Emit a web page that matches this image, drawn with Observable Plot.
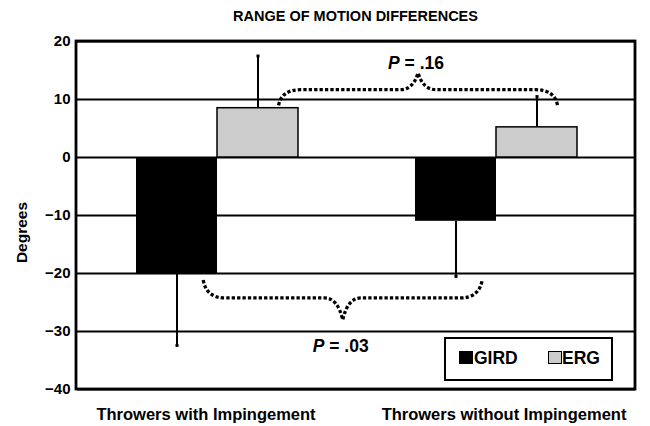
<!DOCTYPE html>
<html>
<head>
<meta charset="utf-8">
<script src="https://cdn.jsdelivr.net/npm/d3@7"></script>
<script src="https://cdn.jsdelivr.net/npm/@observablehq/plot@0.6"></script>
<style>
  body { margin: 0; background: #fff; font-family: "Liberation Sans", Arial, sans-serif; }
  #wrap { position: relative; width: 650px; height: 426px; overflow: hidden; }
  #title { height: 30px; box-sizing: border-box; padding: 9px 15px 0 76px; text-align: center;
           font-weight: bold; font-size: 14.5px; line-height: 15px; color: #000; }
  #legend { position: absolute; left: 444px; top: 337px; width: 169px; height: 44px; box-sizing: border-box;
            border: 2px solid #000; background: #fff; font-weight: bold; font-size: 17.5px; color: #000; }
  #legend .sw { position: absolute; top: 12px; width: 14px; height: 13px; box-sizing: border-box; }
  #legend .lb { position: absolute; top: 10px; line-height: 18px; }
</style>
</head>
<body>
<div id="wrap">
  <div id="title">RANGE OF MOTION DIFFERENCES</div>
  <div id="chart"></div>
  <div id="legend"></div>
</div>
<script>
// ---- data ----
const groups = ["Throwers with Impingement", "Throwers without Impingement"];
const series = ["GIRD", "ERG"];
const girdValues = [-20, -11];
const ergValues = [8.5, 5.2];
const girdErrors = [12.4, 9.5];
const ergErrors = [9.0, 5.3];
const yTicks = [20, 10, 0, -10, -20, -30, -40];
const seriesColors = ["#000000", "#cccccc"];
const yLabel = "Degrees";

// annotations (brace between series of the two groups, with p-value)
const braceSeries = ["ERG", "GIRD"];
const braceEndValues = [8.9, -21.2];
const braceLevelValues = [11.6, -24.3];
const bracePeakValues = [14.5, -28.1];
const pLabels = [".16", ".03"];
const pLabelValues = [16.3, -32.5];

// ---- rows ----
const rows = [];
groups.forEach((g, i) => {
  rows.push({group: g, series: "GIRD", value: girdValues[i], end: girdValues[i] - girdErrors[i]});
  rows.push({group: g, series: "ERG", value: ergValues[i], end: ergValues[i] + ergErrors[i]});
});
const girdRows = rows.filter(d => d.series === "GIRD");
const ergRows = rows.filter(d => d.series === "ERG");

const W = 650, H = 396, ML = 76, MR = 15, MT = 11, MB = 37;

const chart = Plot.plot({
  width: W, height: H,
  marginLeft: ML, marginRight: MR, marginTop: MT, marginBottom: MB,
  style: {fontFamily: "Liberation Sans, Arial, sans-serif", fontWeight: "bold", color: "#000", background: "#fff", overflow: "visible"},
  fx: {domain: groups, padding: 0, label: null},
  x: {domain: series, paddingInner: 0, paddingOuter: 0.704, axis: null},
  y: {domain: [-40, 20], label: yLabel},
  marks: [
    Plot.ruleY(yTicks, {stroke: "#000", strokeWidth: 2}),
    Plot.barY(girdRows, {fx: "group", x: "series", y: "value", fill: seriesColors[0]}),
    Plot.barY(ergRows, {fx: "group", x: "series", y: "value", fill: seriesColors[1], stroke: "#000", strokeWidth: 1.5}),
    Plot.ruleX(rows, {fx: "group", x: "series", y1: "value", y2: "end", stroke: "#000", strokeWidth: 2}),
    Plot.dot(rows, {fx: "group", x: "series", y: "end", symbol: "square", r: 1.7, fill: "#000"}),
    Plot.axisY(yTicks, {tickSize: 0, tickPadding: 7, fontSize: 15, label: yLabel, labelAnchor: "center", labelOffset: 62, labelArrow: "none"}),
    Plot.axisFx({anchor: "bottom", tickSize: 0, tickPadding: 19, fontSize: 16.5, label: null})
  ]
});
document.getElementById("chart").appendChild(chart);

// ---- post: outer frame, braces, p labels ----
const svg = d3.select(chart);
const fxS = chart.scale("fx"), xS = chart.scale("x"), yS = chart.scale("y");
const [fx0, fx1] = fxS.range;
const [yb, yt] = yS.range;
svg.append("rect")
  .attr("x", fx0).attr("y", Math.min(yb, yt))
  .attr("width", fx1 - fx0).attr("height", Math.abs(yb - yt))
  .attr("fill", "none").attr("stroke", "#000").attr("stroke-width", 2.8);

const px = (g, s, f) => fxS.apply(g) - ML + xS.apply(s) + f * xS.bandwidth;
const fracs = [0.76, 0.83];
braceSeries.forEach((s, k) => {
  const xa = px(groups[0], s, fracs[k]);
  const xb = px(groups[1], s, fracs[k]);
  const xm = (xa + xb) / 2;
  const ye = yS.apply(braceEndValues[k]);
  const yl = yS.apply(braceLevelValues[k]);
  const yp = yS.apply(bracePeakValues[k]);
  const p = d3.path();
  p.moveTo(xa, ye);
  p.quadraticCurveTo(xa + 3, yl, xa + 22, yl);
  p.lineTo(xm - 18, yl);
  p.quadraticCurveTo(xm - 5, yl, xm, yp);
  p.quadraticCurveTo(xm + 5, yl, xm + 18, yl);
  p.lineTo(xb - 22, yl);
  p.quadraticCurveTo(xb - 3, yl, xb, ye);
  svg.append("path").attr("d", p.toString()).attr("fill", "none")
    .attr("stroke", "#000").attr("stroke-width", 3.3).attr("stroke-dasharray", "3.3 2.1");
  const t = svg.append("text").attr("x", xm - 2).attr("y", yS.apply(pLabelValues[k]))
    .attr("text-anchor", "middle").attr("dy", "0.35em")
    .attr("font-size", 17.5).attr("font-weight", "bold").attr("fill", "#000");
  t.append("tspan").attr("font-style", "italic").text("P");
  t.append("tspan").text(" = " + pLabels[k]);
});

// y-axis label: size and position as in the reference
const yl = chart.querySelector('g[aria-label="y-axis label"]');
if (yl) {
  yl.setAttribute("transform", (yl.getAttribute("transform") || "") + " translate(0,17)");
  yl.setAttribute("font-size", 15.5);
  yl.querySelectorAll("text").forEach(el => el.setAttribute("font-size", 15.5));
}

// nudge the group labels like in the reference
const fxShift = [-11, 8];
chart.querySelectorAll('g[aria-label="fx-axis tick label"] text').forEach((el, i) => {
  el.setAttribute("transform", (el.getAttribute("transform") || "") + ` translate(${fxShift[i] || 0},0)`);
});

// ---- legend ----
const legend = document.getElementById("legend");
const swLeft = [13, 102], lbLeft = [28, 116];
series.forEach((s, i) => {
  const sw = document.createElement("div");
  sw.className = "sw";
  sw.style.left = swLeft[i] + "px";
  sw.style.background = seriesColors[i];
  if (i === 1) sw.style.border = "1.5px solid #000";
  legend.appendChild(sw);
  const lb = document.createElement("div");
  lb.className = "lb";
  lb.style.left = lbLeft[i] + "px";
  lb.textContent = s;
  legend.appendChild(lb);
});
</script>
</body>
</html>
